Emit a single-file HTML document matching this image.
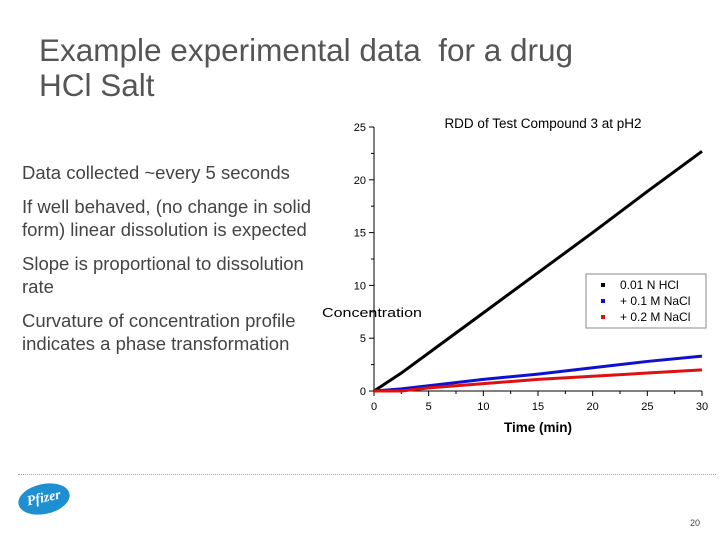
<!DOCTYPE html>
<html><head><meta charset="utf-8"><style>
body{margin:0;width:720px;height:540px;background:#fff;position:relative;overflow:hidden;font-family:"Liberation Sans",sans-serif}
.t{position:absolute;color:#444;white-space:nowrap}
</style></head><body>
<div class="t" style="left:39px;top:33px;font-size:31.5px;line-height:35px;color:#555">Example experimental data&nbsp; for a drug<br>HCl Salt</div>
<div class="t" style="left:22px;top:161px;font-size:18.5px;line-height:23px">Data collected ~every 5 seconds</div>
<div class="t" style="left:22px;top:195px;font-size:18.5px;line-height:23px">If well behaved, (no change in solid<br>form) linear dissolution is expected</div>
<div class="t" style="left:22px;top:252px;font-size:18.5px;line-height:23px">Slope is proportional to dissolution<br>rate</div>
<div class="t" style="left:22px;top:309px;font-size:18.5px;line-height:23px">Curvature of concentration profile<br>indicates a phase transformation</div>
<div style="position:absolute;left:18px;top:474px;width:698px;border-top:1px dotted #aaa"></div>
<div style="position:absolute;left:18px;top:484px;width:52px;height:30px;border-radius:50%;background:#1e8fd0;color:#fff;font:italic bold 14px 'Liberation Serif',serif;text-align:center;line-height:30px;transform:rotate(-12deg)">Pfizer</div>
<div class="t" style="left:690px;top:518px;font-size:9px">20</div>
<svg id="c" width="720" height="540" style="position:absolute;left:0;top:0"></svg>
<script>
const times=[0,2.5,5,10,15,20,25,30];
const hcl=[0,1.7,3.6,7.4,11.2,15.0,18.9,22.7];
const nacl1=[0,0.2,0.5,1.1,1.6,2.2,2.8,3.3];
const nacl2=[0,0,0.3,0.7,1.1,1.4,1.7,2.0];
const xTicks=[0,5,10,15,20,25,30];
const yTicks=[0,5,10,15,20,25];
const X=v=>374+v*(702-374)/30, Y=v=>391-v*(391-127)/25;
const s=document.getElementById('c'),NS='http://www.w3.org/2000/svg';
function mk(t,a,txt){const e=document.createElementNS(NS,t);for(const k in a)e.setAttribute(k,a[k]);if(txt!==undefined)e.textContent=txt;s.appendChild(e);return e;}
let e;
e=mk('line',{x1:374,y1:127,x2:374,y2:391,stroke:'#000'});


e=mk('line',{x1:374,y1:391,x2:702,y2:391,stroke:'#000'});


xTicks.forEach(v=>{mk('line',{x1:X(v),y1:391,x2:X(v),y2:396,stroke:'#000'});
e=mk('text',{x:X(v),y:410,'font-size':11,'text-anchor':'middle'},v);


if(v<30)mk('line',{x1:X(v+2.5),y1:391,x2:X(v+2.5),y2:394,stroke:'#000'});});
yTicks.forEach(v=>{mk('line',{x1:369,y1:Y(v),x2:374,y2:Y(v),stroke:'#000'});
e=mk('text',{x:366,y:Y(v)+4,'font-size':11,'text-anchor':'end'},v);


if(v<25)mk('line',{x1:371,y1:Y(v+2.5),x2:374,y2:Y(v+2.5),stroke:'#000'});});
e=mk('text',{x:538,y:432,'font-size':13.5,'font-weight':'bold','text-anchor':'middle'},'Time (min)');


e=mk('text',{x:322,y:317,'font-size':13,textLength:100,lengthAdjust:'spacingAndGlyphs'},'Concentration');


e=mk('text',{x:543,y:128,'font-size':13.5,'text-anchor':'middle'},'RDD of Test Compound 3 at pH2');


[[hcl,'#000','series-hcl'],[nacl1,'#1010d0','series-0.1m-nacl'],[nacl2,'#e01010','series-0.2m-nacl']].forEach(([d,c,n])=>{
e=mk('polyline',{points:times.map((t,i)=>X(t)+','+Y(d[i])).join(' '),fill:'none',stroke:c,'stroke-width':3});

});
e=mk('rect',{x:586,y:274,width:120,height:54,fill:'#fff',stroke:'#888'});


[['0.01 N HCl','#000'],['+ 0.1 M NaCl','#1010d0'],['+ 0.2 M NaCl','#e01010']].forEach(([l,c],i)=>{
mk('rect',{x:601,y:283+i*16,width:4,height:4,fill:c});
e=mk('text',{x:620,y:289+i*16,'font-size':12},l);

});
</script>
</body></html>
